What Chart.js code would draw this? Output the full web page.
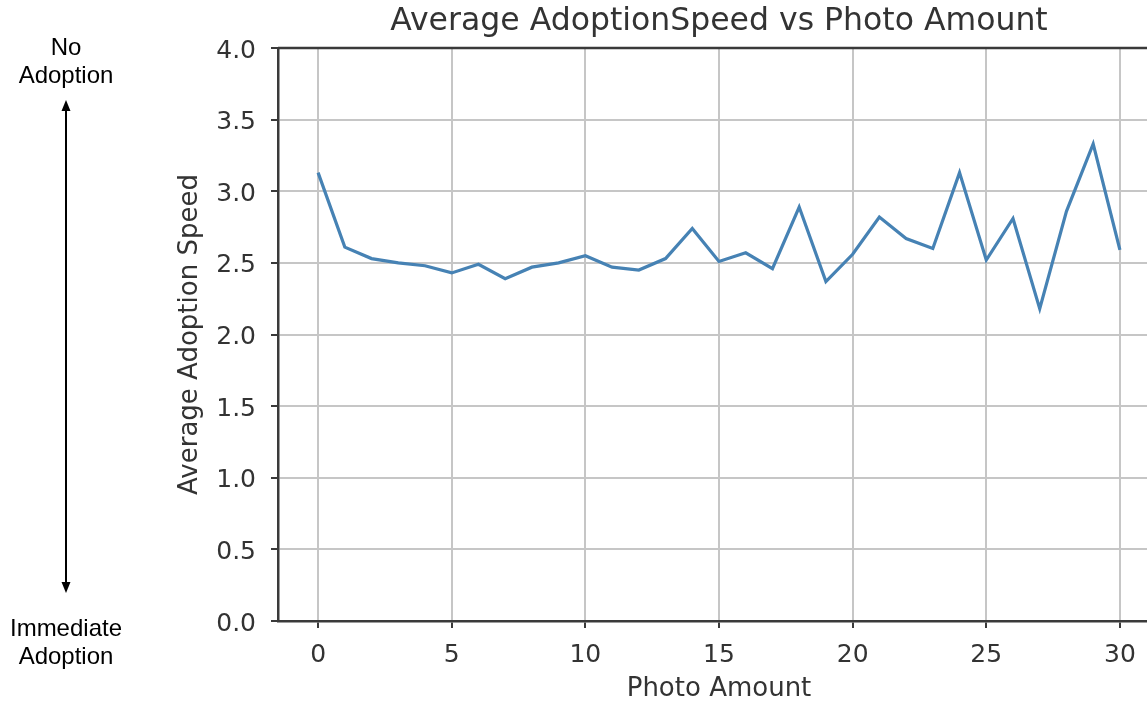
<!DOCTYPE html>
<html>
<head>
<meta charset="utf-8">
<script src="https://cdn.jsdelivr.net/npm/chart.js@4"></script>
<style>
    html, body { margin: 0; padding: 0; background: #fff; overflow: hidden; }
    #wrap { position: relative; width: 1147px; height: 701px; overflow: hidden; }
    #chart { position: absolute; left: 0; top: 0; }
    .note {
        position: absolute; width: 132px; left: 0;
        font-family: "Liberation Sans", Arial, sans-serif;
        font-size: 24px; line-height: 28px; text-align: center; color: #000;
    }
</style>
</head>
<body>
<div id="wrap">
    <canvas id="chart"></canvas>
    <div class="note" style="top:33px">No<br>Adoption</div>
    <div class="note" style="top:614px">Immediate<br>Adoption</div>
</div>
<script>
const photoAmount = [0, 1, 2, 3, 4, 5, 6, 7, 8, 9, 10, 11, 12, 13, 14, 15,
    16, 17, 18, 19, 20, 21, 22, 23, 24, 25, 26, 27, 28, 29, 30];
const adoptionSpeed = [3.13, 2.61, 2.53, 2.50, 2.48, 2.43, 2.49, 2.39, 2.47, 2.50, 2.55,
    2.47, 2.45, 2.53, 2.74, 2.51, 2.57, 2.46, 2.89, 2.37, 2.56,
    2.82, 2.67, 2.60, 3.13, 2.52, 2.81, 2.18, 2.86, 3.33, 2.59];
const xTicks = [0, 5, 10, 15, 20, 25, 30];
const chartTitle = 'Average AdoptionSpeed vs Photo Amount';

const textColor = '#333';
const spineColor = '#3a3a3a';
const gridColor = '#c6c6c6';

function getPoints() {
    return photoAmount.map((x, i) => ({x: x, y: adoptionSpeed[i]}));
}

// title centred on the plot area, top spine, and the side arrow
const decorPlugin = {
    id: 'decor',
    afterDraw(chart) {
        const ctx = chart.ctx;
        const a = chart.chartArea;
        ctx.save();
        ctx.strokeStyle = spineColor;
        ctx.lineWidth = 2.5;
        ctx.beginPath();
        ctx.moveTo(a.left, a.top);
        ctx.lineTo(a.right, a.top);
        ctx.stroke();

        ctx.fillStyle = textColor;
        ctx.font = '31.5px "DejaVu Sans"';
        ctx.textAlign = 'center';
        ctx.textBaseline = 'alphabetic';
        ctx.fillText(chartTitle, (a.left + a.right) / 2, 30);

        // arrow
        const ax = 66, top = 100, bot = 593;
        ctx.strokeStyle = '#000';
        ctx.fillStyle = '#000';
        ctx.lineWidth = 2;
        ctx.beginPath();
        ctx.moveTo(ax, top + 8);
        ctx.lineTo(ax, bot - 8);
        ctx.stroke();
        ctx.beginPath();
        ctx.moveTo(ax, top);
        ctx.lineTo(ax - 4.5, top + 11);
        ctx.lineTo(ax + 4.5, top + 11);
        ctx.closePath();
        ctx.fill();
        ctx.beginPath();
        ctx.moveTo(ax, bot);
        ctx.lineTo(ax - 4.5, bot - 11);
        ctx.lineTo(ax + 4.5, bot - 11);
        ctx.closePath();
        ctx.fill();
        ctx.restore();
    }
};

const canvas = document.getElementById('chart');
canvas.style.width = '1160px';
canvas.style.height = '705px';
canvas.width = 1160;
canvas.height = 705;

new Chart(canvas, {
    type: 'line',
    data: {
        datasets: [{
            data: getPoints(),
            borderColor: '#4682b4',
            borderWidth: 3.2,
            pointRadius: 0,
            tension: 0,
            fill: false
        }]
    },
    options: {
        responsive: false,
        animation: false,
        layout: {padding: {left: 175, top: 48, right: 0, bottom: 0}},
        plugins: {
            legend: {display: false},
            title: {display: false},
            tooltip: {enabled: false}
        },
        scales: {
            x: {
                type: 'linear',
                min: -1.5,
                max: 31.5,
                afterBuildTicks: scale => { scale.ticks = xTicks.map(v => ({value: v})); },
                afterFit: scale => { scale.height = 84; },
                grid: {color: gridColor, lineWidth: 2, tickColor: spineColor, tickLength: 7, tickWidth: 2},
                border: {color: spineColor, width: 2.5},
                ticks: {
                    font: {family: 'DejaVu Sans', size: 25},
                    color: textColor,
                    padding: 12,
                    maxRotation: 0,
                    callback: v => String(v)
                },
                title: {
                    display: true,
                    text: 'Photo Amount',
                    font: {family: 'DejaVu Sans', size: 26},
                    color: textColor,
                    padding: 0
                }
            },
            y: {
                min: 0,
                max: 4,
                afterFit: scale => { scale.width = 103; },
                grid: {color: gridColor, lineWidth: 2, tickColor: spineColor, tickLength: 7, tickWidth: 2},
                border: {color: spineColor, width: 2.5},
                ticks: {
                    stepSize: 0.5,
                    font: {family: 'DejaVu Sans', size: 25},
                    color: textColor,
                    padding: 15,
                    labelOffset: 3,
                    callback: v => v.toFixed(1)
                },
                title: {
                    display: true,
                    text: 'Average Adoption Speed',
                    font: {family: 'DejaVu Sans', size: 26},
                    color: textColor,
                    padding: 0
                }
            }
        }
    },
    plugins: [decorPlugin]
});
</script>
</body>
</html>
